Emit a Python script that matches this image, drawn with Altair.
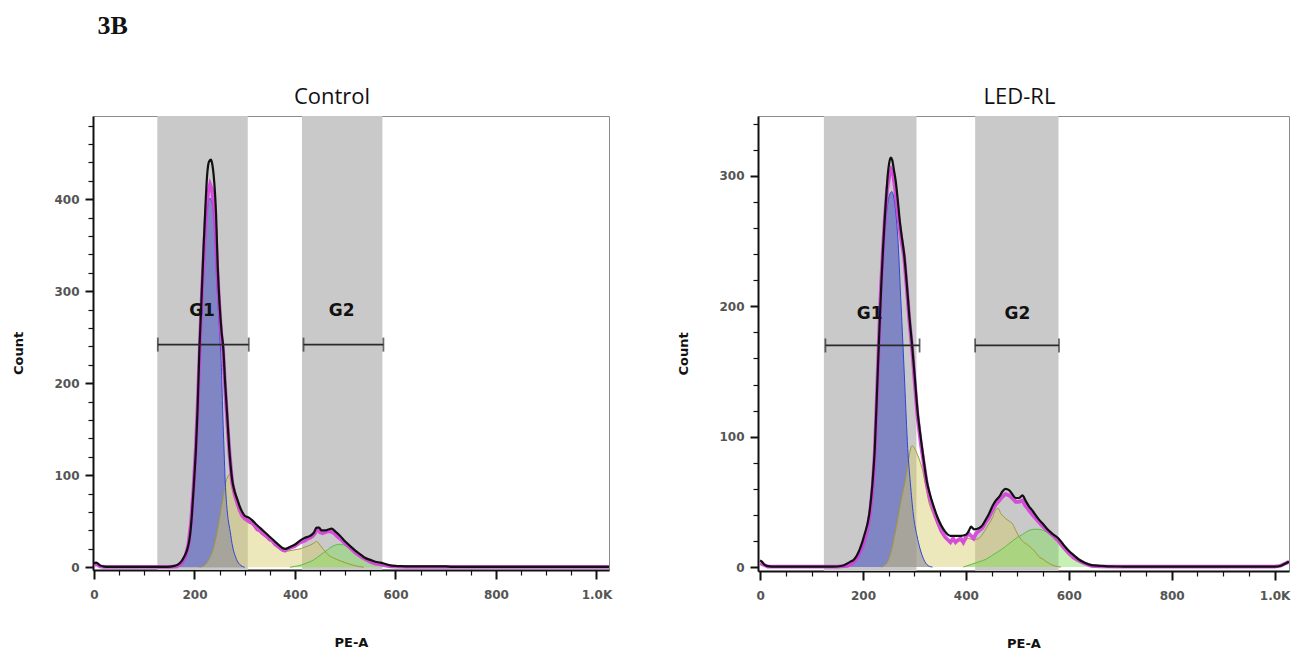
import altair as alt
import pandas as pd

# ---------------- data ----------------
X_TICKS = list(range(0, 1001, 50))
CTRL_Y_TICKS = list(range(0, 481, 20))
LED_Y_TICKS = list(range(0, 341, 20))

GATE_NAMES = ["G1", "G2"]
CTRL_GATE_LO = [126, 414]
CTRL_GATE_HI = [306, 574]
CTRL_BAR_LO = [127, 417]
CTRL_BAR_HI = [308, 576]
CTRL_BAR_Y = [242, 242]
CTRL_LABEL_X = [215, 493]
CTRL_LABEL_Y = [278, 278]

LED_GATE_LO = [124, 418]
LED_GATE_HI = [304, 580]
LED_BAR_LO = [127, 418]
LED_BAR_HI = [310, 581]
LED_BAR_Y = [170, 170]
LED_LABEL_X = [213, 500]
LED_LABEL_Y = [194, 194]

# Control: raw histogram (black)
CTRL_RAW = [(0, 4), (4, 5), (8, 4), (12, 2), (18, 1), (30, 0.4), (100, 0.3), (145, 0.5), (160, 1.5),
            (170, 4), (180, 12), (187, 22), (191, 34), (195, 58), (199, 92), (203, 130), (206, 170),
            (210, 240), (213, 278), (218, 347), (222, 395), (225, 425), (229, 441), (233, 443),
            (236, 436), (238, 427), (241, 405), (243, 383), (246, 330), (250, 285), (254, 255),
            (257, 240), (261, 200), (265, 166), (269, 130), (275, 95), (280, 82), (285, 74), (290, 66),
            (295, 60), (300, 56), (308, 54), (315, 51), (322, 47), (330, 43), (340, 38), (348, 34),
            (358, 29), (368, 24), (375, 21), (381, 20), (390, 22), (401, 25), (410, 29), (420, 32),
            (430, 34), (438, 38), (443, 43), (448, 43), (453, 40), (460, 40), (466, 41), (473, 42),
            (480, 39), (490, 34), (500, 28), (510, 23), (520, 18), (530, 14), (540, 10), (550, 8),
            (560, 6), (570, 5), (580, 3.5), (590, 2), (600, 1.5), (610, 1.2), (620, 1), (650, 1),
            (700, 1), (712, 0.4), (750, 0.3), (1000, 0.3), (1025, 0.3)]
# Control: model fit (magenta)
CTRL_FIT = [(0, 3), (6, 3), (12, 1), (20, 0.3), (150, 0.3), (165, 1), (175, 5), (182, 12), (188, 25),
            (193, 48), (198, 85), (203, 133), (207, 185), (211, 245), (215, 300), (219, 345),
            (223, 385), (227, 407), (231, 416), (235, 410), (239, 390), (242, 365), (245, 328),
            (249, 288), (253, 255), (257, 235), (261, 196), (265, 160), (270, 122), (275, 92),
            (280, 79), (285, 70), (290, 62), (295, 56), (300, 53), (305, 51), (310, 49), (315, 48),
            (320, 45), (325, 41), (330, 40), (335, 37), (340, 35), (345, 33), (350, 30), (355, 29),
            (360, 25), (365, 23), (370, 21), (375, 19), (380, 18), (385, 20), (390, 21), (395, 22),
            (400, 23), (405, 25), (410, 27), (415, 28), (420, 29), (425, 31), (430, 32), (435, 34),
            (440, 37), (443, 41), (447, 41), (450, 38), (455, 37), (460, 38), (465, 39), (470, 39),
            (475, 38), (480, 36), (485, 33), (490, 31), (500, 26), (510, 21), (520, 16), (530, 12),
            (540, 9), (550, 6), (560, 4), (570, 3), (580, 2), (590, 1), (600, 0.6), (620, 0.3),
            (1025, 0.3)]
CTRL_G1 = [(150, 0), (170, 2), (180, 8), (186, 18), (190, 30), (194, 55), (198, 85), (202, 125),
           (206, 175), (210, 235), (214, 290), (218, 335), (222, 372), (226, 392), (231, 401),
           (235, 396), (238, 383), (241, 355), (244, 315), (248, 275), (251, 245), (253, 225),
           (255, 190), (257, 155), (259, 125), (261, 95), (264, 68), (267, 52), (271, 39), (276, 22),
           (280, 14), (285, 7), (290, 3), (295, 1), (300, 0)]
CTRL_S = [(210, 0), (220, 2), (228, 8), (238, 21), (245, 38), (251, 57), (257, 76), (262, 92),
          (266, 98), (270, 101), (274, 99), (278, 90), (284, 78), (291, 66), (298, 58), (305, 52),
          (312, 48), (320, 43), (330, 38), (340, 33), (350, 29), (360, 24), (370, 20), (380, 17),
          (390, 18), (400, 19), (410, 20), (420, 22), (430, 24), (437, 26), (443, 28), (450, 24),
          (457, 19), (465, 14), (477, 10), (490, 7), (500, 5), (517, 2), (537, 0)]
CTRL_G2 = [(390, 0), (400, 1), (410, 2), (420, 4), (430, 6), (437, 8), (445, 11), (450, 13),
           (457, 16), (465, 19), (472, 22), (480, 24), (490, 25), (498, 24), (505, 22), (515, 19),
           (523, 16), (533, 12), (543, 8), (553, 6), (563, 4), (573, 2.5), (583, 1), (595, 0)]

# LED-RL
LED_RAW = [(0, 5), (4, 4), (8, 2), (15, 0.8), (30, 0.3), (140, 0.3), (160, 1), (175, 4), (183, 6),
           (194, 14), (203, 25), (212, 40), (218, 62), (223, 91), (228, 142), (233, 193), (236, 220),
           (239, 244), (242, 265), (245, 283), (248, 300), (251, 310), (254, 314), (257, 312),
           (260, 305), (264, 295), (268, 280), (272, 264), (276, 252), (280, 240), (285, 218),
           (290, 193), (296, 168), (301, 144), (306, 120), (312, 100), (318, 82), (324, 66),
           (330, 56), (337, 47), (344, 39), (352, 32), (360, 27), (370, 24), (381, 24), (390, 24),
           (401, 25), (406, 28), (410, 31), (416, 29), (426, 30), (432, 32), (438, 36), (445, 41),
           (452, 47), (458, 51), (465, 54), (471, 58), (477, 60), (484, 59), (490, 56), (497, 53),
           (503, 53), (510, 55), (516, 51), (522, 47), (530, 43), (541, 37), (550, 33), (561, 28),
           (570, 25), (580, 22), (590, 17), (599, 13), (610, 9), (619, 6), (630, 3.5), (644, 1.5),
           (660, 1), (676, 0.6), (708, 0.4), (720, 0.3), (1000, 0.3), (1012, 1), (1022, 3), (1028, 4)]
LED_FIT = [(0, 3), (6, 2), (15, 0.3), (150, 0.3), (170, 1), (180, 3), (190, 8), (200, 17), (208, 28),
           (214, 42), (219, 62), (223, 88), (227, 130), (231, 175), (235, 215), (239, 245),
           (243, 270), (247, 290), (251, 300), (255, 305), (258, 303), (262, 292), (266, 278),
           (270, 264), (275, 250), (280, 238), (285, 215), (290, 190), (296, 165), (301, 140),
           (306, 116), (312, 96), (318, 80), (324, 64), (330, 53), (337, 44), (344, 36), (352, 28),
           (360, 23), (365, 21), (370, 19), (375, 22), (380, 19), (385, 21), (390, 22), (395, 19),
           (400, 23), (405, 26), (410, 24), (415, 22), (420, 26), (426, 28), (432, 30), (438, 34),
           (445, 38), (452, 44), (458, 48), (465, 51), (471, 54), (477, 56), (484, 55), (490, 53),
           (497, 50), (503, 50), (510, 51), (516, 47), (522, 44), (530, 40), (541, 35), (550, 31),
           (561, 27), (570, 24), (580, 20), (590, 15), (599, 11), (610, 7), (619, 5), (630, 3),
           (644, 1), (660, 0.5), (700, 0.3), (1000, 0.3), (1012, 1), (1022, 3), (1028, 4)]
LED_G1 = [(150, 0), (170, 1), (180, 3), (190, 8), (198, 15), (205, 26), (212, 40), (218, 60),
          (223, 88), (228, 135), (233, 185), (239, 235), (245, 268), (250, 283), (256, 288),
          (262, 278), (266, 262), (269, 244), (272, 218), (275, 193), (278, 168), (281, 142),
          (284, 115), (287, 91), (292, 65), (298, 40), (305, 24), (311, 14), (318, 6), (327, 1),
          (335, 0)]
LED_S = [(235, 0), (244, 2), (250, 6), (256, 14), (262, 25), (269, 40), (276, 55), (282, 66),
         (287, 78), (291, 88), (295, 93), (299, 92), (304, 88), (310, 82), (316, 74), (322, 62),
         (328, 50), (335, 42), (342, 35), (350, 28), (358, 23), (366, 20), (375, 20), (385, 20),
         (395, 20), (405, 22), (415, 21), (425, 22), (432, 25), (440, 30), (446, 34), (452, 38),
         (458, 44), (463, 45), (468, 41), (473, 39), (478, 37), (485, 35), (491, 33), (497, 28),
         (504, 23), (510, 20), (520, 17), (529, 14), (536, 11), (542, 8), (550, 6), (561, 3),
         (572, 1), (585, 0)]
LED_G2 = [(395, 0), (410, 2), (425, 4), (439, 6), (455, 10), (471, 14), (484, 18), (497, 22),
          (510, 25), (522, 28), (532, 29), (541, 29), (551, 28), (561, 26), (570, 23), (580, 20),
          (590, 16), (599, 12), (610, 8), (619, 5), (630, 2.5), (638, 1), (650, 0)]

# ---------------- styling ----------------
GATE_GRAY = "#c9c9c9"
BLUE_FILL, BLUE_OP = "#4c56c0", 0.58
BLUE_LINE = "#2f44d6"
YELLOW_FILL, YELLOW_OP = "#d6cc6a", 0.45
YELLOW_LINE = "#a0983c"
GREEN_FILL, GREEN_OP = "#7fdf5a", 0.45
GREEN_LINE = "#62b84a"
MAGENTA = "#d43fd9"
TICK_FONT = "DejaVu Sans"


def df(points):
    return pd.DataFrame(points, columns=["x", "y"])


def panel(title, title_dx, raw, fit, g1, s, g2, gate_lo, gate_hi, bar_lo, bar_hi, bar_y, lab_x, lab_y,
          x_dom, y_dom, y_ticks, width, height):
    xs = alt.Scale(domain=x_dom, nice=False, zero=False)
    ys = alt.Scale(domain=y_dom, nice=False, zero=False)
    x_axis = alt.Axis(
        values=X_TICKS,
        labelExpr="datum.value % 200 === 0 ? (datum.value === 1000 ? '1.0K' : format(datum.value, 'd')) : ''",
        tickSize={"condition": {"test": "datum.value % 200 === 0", "value": 9}, "value": 5},
        tickWidth={"condition": {"test": "datum.value % 200 === 0", "value": 2}, "value": 1.2},
        title="PE-A", titlePadding=36, labelPadding=10, grid=False, labelOverlap=False,
        labelFlush=False,
    )
    y_axis = alt.Axis(
        values=y_ticks,
        labelExpr="datum.value % 100 === 0 ? format(datum.value, 'd') : ''",
        tickSize={"condition": {"test": "datum.value % 100 === 0", "value": 8}, "value": 5},
        tickWidth={"condition": {"test": "datum.value % 100 === 0", "value": 2}, "value": 1.2},
        title="Count", titlePadding=28, labelPadding=6, grid=False, labelOverlap=False,
        labelFlush=False, titleY=height / 2 + 10,
    )
    X = alt.X("x:Q", scale=xs, axis=x_axis)
    Y = alt.Y("y:Q", scale=ys, axis=y_axis)

    gates = pd.DataFrame({"name": GATE_NAMES, "x": gate_lo, "x2": gate_hi})
    bars = pd.DataFrame({"name": GATE_NAMES, "x": bar_lo, "x2": bar_hi, "y": bar_y})
    caps = pd.DataFrame({"x": bar_lo + bar_hi, "y": bar_y + bar_y})
    labels = pd.DataFrame({"name": GATE_NAMES, "x": lab_x, "y": lab_y})

    gate_layer = alt.Chart(gates).mark_rect(color=GATE_GRAY).encode(x=X, x2="x2:Q")

    def area(points, fill, op):
        return alt.Chart(df(points)).mark_area(
            color=fill, opacity=op, interpolate="monotone", clip=True
        ).encode(x=X, y=Y)

    def line(points, color, width, interp="monotone", opacity=1.0):
        return alt.Chart(df(points)).mark_line(
            color=color, strokeWidth=width, interpolate=interp, opacity=opacity, clip=True
        ).encode(x=X, y=Y)

    layers = [
        gate_layer,
        area(g1, BLUE_FILL, BLUE_OP),
        area(s, YELLOW_FILL, YELLOW_OP),
        area(g2, GREEN_FILL, GREEN_OP),
        line(s, YELLOW_LINE, 1),
        line(g2, GREEN_LINE, 1),
        line(g1, BLUE_LINE, 1),
        line(fit, MAGENTA, 3.8, interp="linear", opacity=0.9),
        line(raw, "#111111", 2.2),
        alt.Chart(bars).mark_rule(color="#2a2a2a", strokeWidth=1.8).encode(x=X, x2="x2:Q", y=Y),
        alt.Chart(caps).mark_tick(orient="vertical", color="#2a2a2a", size=14, thickness=1.8).encode(x=X, y=Y),
        alt.Chart(labels).mark_text(font=TICK_FONT, fontSize=17, fontWeight="bold", color="#111111").encode(
            x=X, y=Y, text="name:N"),
    ]
    return alt.layer(*layers).properties(
        width=width, height=height,
        title=alt.TitleParams(title, font="Open Sans", fontSize=22, fontWeight="normal", color="#111111",
                              offset=7, dx=title_dx),
    )


left = panel("Control", -19, CTRL_RAW, CTRL_FIT, CTRL_G1, CTRL_S, CTRL_G2,
             CTRL_GATE_LO, CTRL_GATE_HI, CTRL_BAR_LO, CTRL_BAR_HI, CTRL_BAR_Y, CTRL_LABEL_X, CTRL_LABEL_Y,
             [-2, 1025], [-3, 490.5], CTRL_Y_TICKS, 516, 454)
right = panel("LED-RL", -4, LED_RAW, LED_FIT, LED_G1, LED_S, LED_G2,
              LED_GATE_LO, LED_GATE_HI, LED_BAR_LO, LED_BAR_HI, LED_BAR_Y, LED_LABEL_X, LED_LABEL_Y,
              [-4, 1028], [-3, 346], LED_Y_TICKS, 531, 455)

chart = alt.hconcat(left, right, spacing=64).properties(
    title=alt.TitleParams("3B", anchor="start", font="Liberation Serif", fontSize=26, fontWeight="bold",
                          color="#111111", dx=85, offset=47),
    padding={"left": 4, "top": 4, "right": 5, "bottom": 5},
).configure_view(
    stroke="#8c8c8c", strokeWidth=1
).configure_axis(
    domainColor="#111111", domainWidth=2, tickColor="#111111",
    labelFont=TICK_FONT, labelFontSize=12, labelFontWeight="bold", labelColor="#555555",
    titleFont=TICK_FONT, titleFontSize=13, titleFontWeight="bold", titleColor="#111111",
)

chart.save("out.html", embed_options={"renderer": "svg", "actions": False})
